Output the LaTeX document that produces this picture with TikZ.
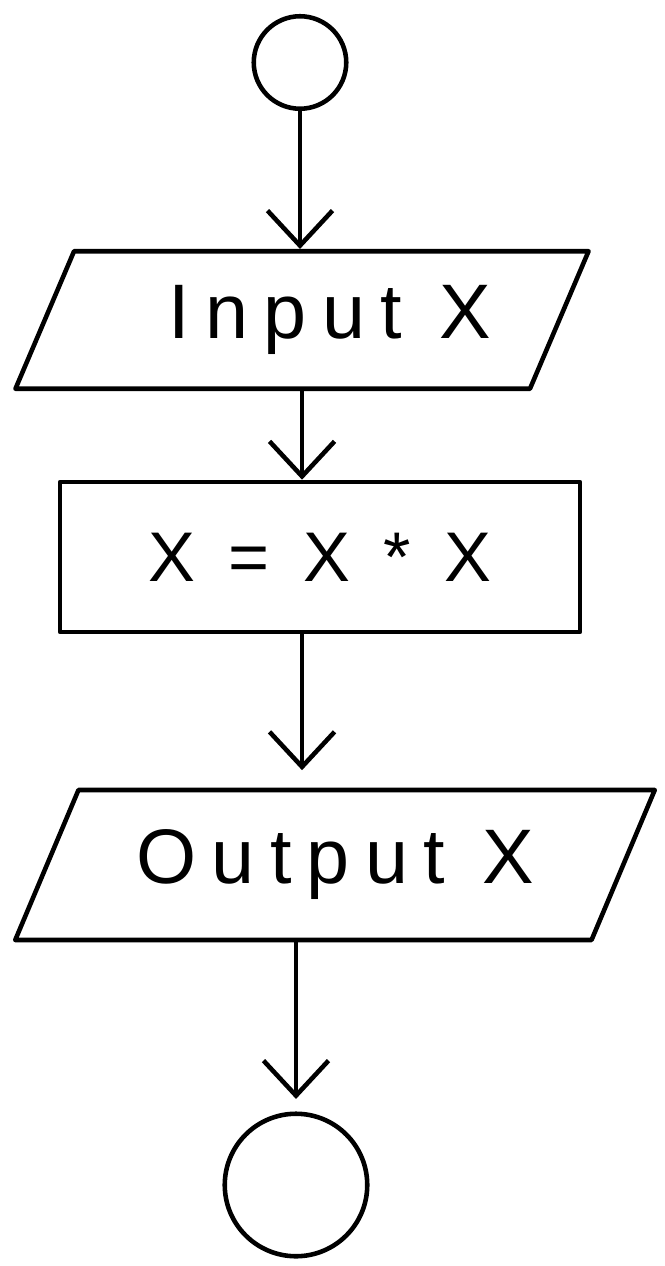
\documentclass[tikz,border=0pt]{standalone}
\usepackage{fontspec}
\newfontfamily\handfont[LetterSpace=20]{Liberation Sans}
\usetikzlibrary{arrows.meta,shapes.geometric}

\begin{document}
\begin{tikzpicture}[line width=2.6pt,line join=round,line cap=round,
  >={Straight Barb[length=7mm,width=13mm]},
  term/.style={draw,circle,inner sep=0pt},
  iobox/.style={draw,trapezium,trapezium left angle=55,trapezium right angle=125,trapezium stretches=true,font=\handfont\fontsize{44}{50}\selectfont,inner sep=0pt},
  procbox/.style={draw,rectangle,font=\handfont\fontsize{40}{48}\selectfont,inner sep=0pt}]
\useasboundingbox (0,0) rectangle (13.28,-25.32);
\node[term,minimum size=1.85cm] (start) at (6.0,-1.25) {};
\node[iobox,minimum width=11.5cm,minimum height=2.75cm] (inp) at (6.04,-6.4) {\hspace{1.1cm}Input X};
\node[procbox,minimum width=10.4cm,minimum height=3.0cm] (calc) at (6.4,-11.14) {X = X * X};
\node[iobox,minimum width=12.8cm,minimum height=3.0cm] (outp) at (6.7,-17.3) {Output X};
\node[term,minimum size=2.85cm] (stop) at (5.92,-23.7) {};
\draw[->] (start.south) -- (start.south |- inp.north);
\draw[->] (inp.south) -- (inp.south |- calc.north);
\draw[->] (calc.south -| inp.south) -- ([yshift=0.35cm]inp.south |- outp.north);
\draw[->] (outp.south -| stop.north) -- ([yshift=0.25cm]stop.north);
\end{tikzpicture}
\end{document}
